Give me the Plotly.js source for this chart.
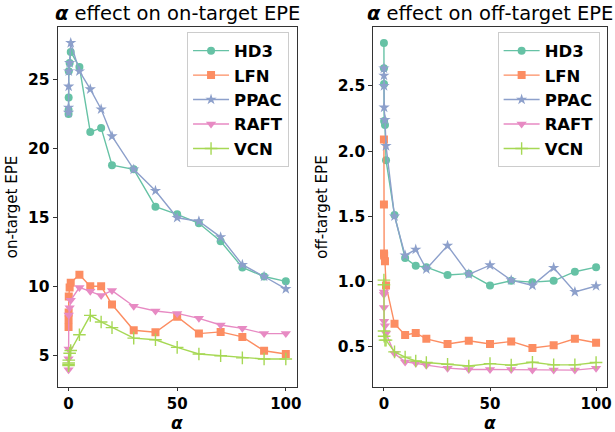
<!DOCTYPE html>
<html>
<head>
<meta charset="utf-8">
<script src="https://cdn.plot.ly/plotly-3.0.1.min.js"></script>
<style>
html,body{margin:0;padding:0;background:#fff;}
#chart{width:615px;height:432px;}
</style>
</head>
<body>
<div id="chart"></div>
<script>
// alpha values (x axis)
const alphas = [0, 0.01, 0.05, 0.1, 0.5, 1, 5, 10, 15, 20, 30, 40, 50, 60, 70, 80, 90, 100];
const methods = ["HD3", "LFN", "PPAC", "RAFT", "VCN"];

// on-target EPE
const hd3On  = [22.5, 22.8, 23.7, 25.6, 26.2, 27.0, 25.9, 21.2, 21.5, 18.8, 18.5, 15.8, 15.25, 14.6, 13.3, 11.4, 10.75, 10.4];
const lfnOn  = [7.1, 7.65, 8.15, 9.3, 9.95, 10.3, 10.87, 10.04, 10.04, 8.72, 6.86, 6.72, 7.84, 6.62, 6.74, 6.38, 5.38, 5.14];
const ppacOn = [22.6, 22.97, 24.5, 25.6, 26.2, 27.65, 25.6, 24.3, 22.85, 20.9, 18.5, 16.95, 15.0, 14.75, 13.6, 11.6, 10.75, 9.85];
const raftOn = [4.0, 4.8, 5.5, 7.96, 8.48, 9.03, 9.96, 9.68, 9.37, 9.73, 8.6, 8.25, 8.08, 7.72, 7.24, 7.0, 6.62, 6.62];
const vcnOn  = [4.3, 4.4, 4.5, 4.7, 5.2, 5.4, 6.53, 7.94, 7.46, 7.05, 6.29, 6.17, 5.62, 5.14, 5.02, 4.86, 4.78, 4.78];

// off-target EPE
const hd3Off  = [2.83, 2.635, 2.515, 2.23, 2.2, 1.93, 1.51, 1.18, 1.12, 1.11, 1.05, 1.06, 0.97, 1.005, 0.995, 1.005, 1.075, 1.11];
const lfnOff  = [2.09, 1.59, 1.215, 1.2, 1.155, 0.97, 0.675, 0.59, 0.605, 0.56, 0.52, 0.545, 0.52, 0.54, 0.49, 0.51, 0.56, 0.53];
const ppacOff = [2.635, 2.58, 2.5, 2.335, 2.24, 2.04, 1.5, 1.2, 1.245, 1.095, 1.275, 1.055, 1.125, 1.01, 0.97, 1.105, 0.92, 0.965];
const raftOff = [0.92, 0.9, 0.8, 0.695, 0.66, 0.6, 0.447, 0.383, 0.373, 0.358, 0.335, 0.325, 0.325, 0.325, 0.32, 0.32, 0.32, 0.335];
const vcnOff  = [1.01, 0.975, 0.62, 0.58, 0.55, 0.55, 0.46, 0.42, 0.39, 0.378, 0.365, 0.352, 0.37, 0.358, 0.38, 0.36, 0.36, 0.378];

// axis ticks
const xTicks = [0, 50, 100];
const yTicksOn = [5, 10, 15, 20, 25];
const yTicksOff = [0.5, 1.0, 1.5, 2.0, 2.5];

const colors = ["#66c2a5", "#fc8d62", "#8da0cb", "#e78ac3", "#a6d854"];
const symbols = ["circle", "square", "star", "triangle-down", "cross-thin-open"];
const sizes = [8, 8, 8.5, 9, 9];

const onData = [hd3On, lfnOn, ppacOn, raftOn, vcnOn];
const offData = [hd3Off, lfnOff, ppacOff, raftOff, vcnOff];

const traces = [];
methods.forEach((m, i) => {
  traces.push({
    x: alphas, y: onData[i], name: m, type: "scatter", mode: "lines+markers",
    xaxis: "x", yaxis: "y", legend: "legend",
    line: {color: colors[i], width: 1.4},
    marker: {color: colors[i], symbol: symbols[i], size: sizes[i],
             line: {color: colors[i], width: i === 4 ? 1.4 : 0}}
  });
});
methods.forEach((m, i) => {
  traces.push({
    x: alphas, y: offData[i], name: m, type: "scatter", mode: "lines+markers",
    xaxis: "x2", yaxis: "y2", legend: "legend2",
    line: {color: colors[i], width: 1.4},
    marker: {color: colors[i], symbol: symbols[i], size: sizes[i],
             line: {color: colors[i], width: i === 4 ? 1.4 : 0}}
  });
});

const tickFont = {family: "DejaVu Sans", size: 15.5, color: "#000", weight: "bold"};
const xTickFont = {family: "DejaVu Sans", size: 15, color: "#000", weight: "bold"};
const axCommon = {
  showline: true, mirror: true, linecolor: "#333", linewidth: 1,
  ticks: "outside", ticklen: 4, tickcolor: "#333", tickwidth: 1,
  showgrid: false, zeroline: false, tickfont: tickFont
};
const legFont = {family: "DejaVu Sans", size: 16.5, color: "#000", weight: "bold"};
const legCommon = {
  font: legFont, bgcolor: "rgba(255,255,255,0.8)", bordercolor: "#cccccc", borderwidth: 1,
  xanchor: "right", yanchor: "top", tracegroupgap: 0, itemwidth: 36
};

const titleFont = {family: "DejaVu Sans", size: 19.5, color: "#000"};
const alphaFont = {family: "DejaVu Sans", size: 17, color: "#000"};
const yDom = [0.104, 0.9375];

const layout = {
  width: 615, height: 432,
  margin: {l: 0, r: 0, t: 0, b: 0},
  paper_bgcolor: "#fff", plot_bgcolor: "#fff",
  font: {family: "DejaVu Sans", color: "#000"},
  xaxis: Object.assign({}, axCommon, {
    domain: [0.0938, 0.4824], range: [-5, 105], tickvals: xTicks, anchor: "y", ticklen: 3, tickfont: xTickFont
  }),
  yaxis: Object.assign({}, axCommon, {
    domain: yDom, range: [2.75, 28.8], tickvals: yTicksOn, anchor: "x",
    title: {text: "on-target EPE", font: {family: "DejaVu Sans", size: 15, color: "#000"}, standoff: 6}
  }),
  xaxis2: Object.assign({}, axCommon, {
    domain: [0.607, 0.9865], range: [-5, 105], tickvals: xTicks, anchor: "y2", ticklen: 3, tickfont: xTickFont
  }),
  yaxis2: Object.assign({}, axCommon, {
    domain: yDom, range: [0.19, 2.952], tickvals: yTicksOff, tickformat: ".1f", anchor: "x2",
    title: {text: "off-target EPE", font: {family: "DejaVu Sans", size: 15, color: "#000"}, standoff: 6}
  }),
  legend: Object.assign({}, legCommon, {x: 0.47, y: 0.925}),
  legend2: Object.assign({}, legCommon, {x: 0.975, y: 0.925}),
  annotations: [
    {text: "<b><i>α</i></b> effect on on-target EPE", xref: "paper", yref: "paper",
     x: (0.0938 + 0.4824) / 2, y: 0.9375, xanchor: "center", yanchor: "bottom", yshift: 0,
     showarrow: false, font: titleFont},
    {text: "<b><i>α</i></b> effect on off-target EPE", xref: "paper", yref: "paper",
     x: (0.607 + 0.9865) / 2, y: 0.9375, xanchor: "center", yanchor: "bottom", yshift: 0,
     showarrow: false, font: titleFont},
    {text: "<b><i>α</i></b>", xref: "paper", yref: "paper",
     x: (0.0938 + 0.4824) / 2, y: 0, xanchor: "center", yanchor: "bottom", yshift: -3,
     showarrow: false, font: alphaFont},
    {text: "<b><i>α</i></b>", xref: "paper", yref: "paper",
     x: (0.607 + 0.9865) / 2, y: 0, xanchor: "center", yanchor: "bottom", yshift: -3,
     showarrow: false, font: alphaFont}
  ]
};

Plotly.newPlot("chart", traces, layout, {displayModeBar: false, staticPlot: true});
</script>
</body>
</html>
